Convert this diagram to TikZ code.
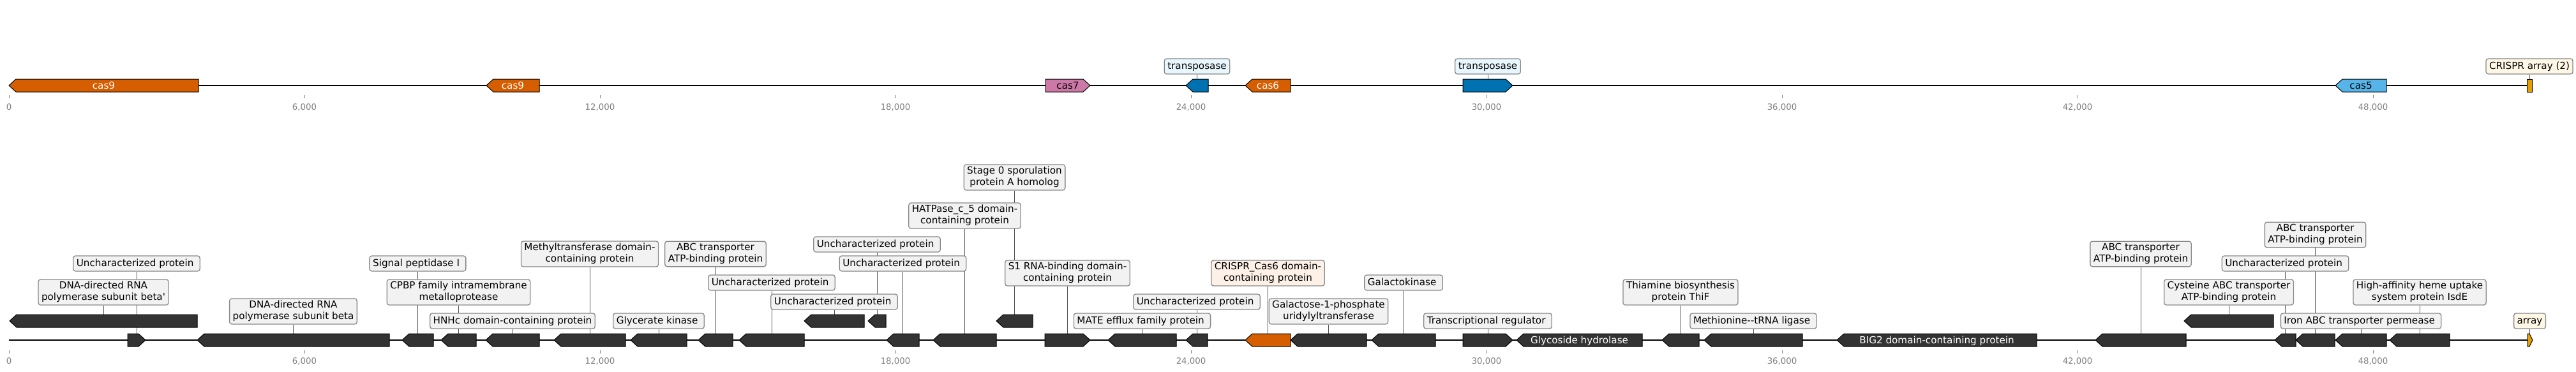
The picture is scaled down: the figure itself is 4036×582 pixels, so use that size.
\documentclass[tikz,border=0pt]{standalone}
\usepackage{fontspec}
\newfontfamily\dv{DejaVu Sans}
\pgfdeclarelayer{bg}
\pgfsetlayers{bg,main}
\definecolor{casorange}{HTML}{D55E00}
\definecolor{caspink}{HTML}{CC79A7}
\definecolor{casblue}{HTML}{0072B2}
\definecolor{cassky}{HTML}{56B4E9}
\definecolor{arrayc}{HTML}{E69F00}
\definecolor{genedark}{HTML}{333333}
\definecolor{boxfill}{HTML}{F2F2F2}
\definecolor{boxline}{HTML}{888888}
\definecolor{bluefill}{HTML}{E8F6FD}
\definecolor{creamfill}{HTML}{FFF7E6}
\definecolor{orangefill}{HTML}{FDF0E6}
\definecolor{tickgray}{HTML}{808080}
\definecolor{conngray}{HTML}{555555}
\newcommand{\lstr}{\rule[-4.4pt]{0pt}{18pt}}
\newcommand{\geneL}[5]{%
  \draw[genestyle, fill=#5] (#2,#4) -- (#2+11,#4-10) -- (#3,#4-10) -- (#3,#4+10) -- (#2+11,#4+10) -- cycle;
  \coordinate (#1) at ({(#2+#3)/2},#4-10);
  \coordinate (#1c) at ({(#2+#3)/2},#4);
}
\newcommand{\geneR}[5]{%
  \draw[genestyle, fill=#5] (#2,#4-10) -- (#3-11,#4-10) -- (#3,#4) -- (#3-11,#4+10) -- (#2,#4+10) -- cycle;
  \coordinate (#1) at ({(#2+#3)/2},#4-10);
  \coordinate (#1c) at ({(#2+#3)/2},#4);
}
\begin{document}
\begin{tikzpicture}[x=1pt,y=-1pt,
  genestyle/.style={draw=black, line width=1pt},
  track/.style={line width=2.6pt, draw=black},
  lbl/.style={draw=boxline, line width=1.3pt, rounded corners=3.5pt, fill=boxfill,
    inner xsep=5pt, inner ysep=3pt, align=center, text=black,
    font=\dv\fontsize{15.2}{18}\selectfont,
    execute at begin node=\lstr, execute at end node=\lstr},
  inw/.style={font=\dv\fontsize{15.2}{18}\selectfont, text=white, anchor=base, inner sep=0pt},
  inb/.style={inw, text=black},
  conn/.style={draw=conngray, line width=1pt},
  tickm/.style={draw=tickgray, line width=1pt},
  tickl/.style={font=\dv\fontsize{13.3}{16}\selectfont, text=tickgray, anchor=base, inner sep=0pt}
]
\useasboundingbox (0,0) rectangle (4036,582);

% ---------------- top track ----------------
\draw[track] (14,134) -- (3967,134);
\geneL{tg1}{14}{311}{134}{casorange}
\geneL{tg2}{762}{845}{134}{casorange}
\geneR{tg3}{1638}{1708}{134}{caspink}
\geneL{tg4}{1858}{1893}{134}{casblue}
\geneL{tg5}{1951}{2022}{134}{casorange}
\geneR{tg6}{2292}{2370}{134}{casblue}
\geneL{tg7}{3659}{3739}{134}{cassky}
\draw[genestyle, fill=arrayc] (3959,124) rectangle (3967,144);
\coordinate (tg8) at (3963,124);

\node[inw] (tn1) at ([yshift=-5.5pt]tg1c) {cas9};
\node[inw] (tn2) at ([yshift=-5.5pt]tg2c) {cas9};
\node[inb] (tn3) at ([yshift=-5.5pt]tg3c) {cas7};
\node[inw] (tn5) at ([yshift=-5.5pt]tg5c) {cas6};
\node[inb] (tn7) at ([yshift=-5.5pt]tg7c) {cas5};

\node[lbl, fill=bluefill] (tb4) at (1875.5,104) {transposase};
\node[lbl, fill=bluefill] (tb6) at (2331,104) {transposase};
\node[lbl, fill=creamfill] (tb8) at (3963,104) {CRISPR array (2)};

\foreach \i/\t in {0/0,1/{6,000},2/{12,000},3/{18,000},4/{24,000},5/{30,000},6/{36,000},7/{42,000},8/{48,000}}{
  \draw[tickm] ({14+463*\i},149) -- ({14+463*\i},154);
  \node[tickl] (tt\i) at ({14+463*\i},172) {\t};
  \draw[tickm] ({14+463*\i},549) -- ({14+463*\i},554);
  \node[tickl] (bt\i) at ({14+463*\i},570) {\t};
}

% ---------------- bottom track ----------------
\draw[track] (14,533) -- (3967,533);
\geneL{bg1}{15}{309}{503}{genedark}
\geneR{bg2}{200}{228}{533}{genedark}
\geneL{bg3}{309}{610}{533}{genedark}
\geneL{bg4}{630}{679}{533}{genedark}
\geneL{bg5}{691}{746}{533}{genedark}
\geneL{bg6}{761}{845}{533}{genedark}
\geneL{bg7}{868}{980}{533}{genedark}
\geneL{bg8}{988}{1076}{533}{genedark}
\geneL{bg9}{1094}{1148}{533}{genedark}
\geneL{bg10}{1158}{1260}{533}{genedark}
\geneL{bg11}{1260}{1354}{503}{genedark}
\geneL{bg12}{1360}{1388}{503}{genedark}
\geneL{bg13}{1389}{1440}{533}{genedark}
\geneL{bg14}{1462}{1561}{533}{genedark}
\geneL{bg15}{1561}{1618}{503}{genedark}
\geneR{bg16}{1637}{1708}{533}{genedark}
\geneL{bg17}{1736}{1843}{533}{genedark}
\geneL{bg18}{1858}{1892}{533}{genedark}
\geneL{bg19}{1951}{2022}{533}{casorange}
\geneL{bg20}{2022}{2141}{533}{genedark}
\geneL{bg21}{2149}{2249}{533}{genedark}
\geneR{bg22}{2292}{2370}{533}{genedark}
\geneL{bg23}{2376}{2573}{533}{genedark}
\geneL{bg24}{2604}{2662}{533}{genedark}
\geneL{bg25}{2670}{2824}{533}{genedark}
\geneL{bg26}{2878}{3191}{533}{genedark}
\geneL{bg27}{3283}{3425}{533}{genedark}
\geneL{bg28}{3422}{3562}{503}{genedark}
\geneL{bg29}{3564}{3597}{533}{genedark}
\geneL{bg30}{3597}{3658}{533}{genedark}
\geneL{bg31}{3659}{3739}{533}{genedark}
\geneL{bg32}{3744}{3838}{533}{genedark}
\draw[genestyle, fill=arrayc] (3960,523) -- (3963,523) -- (3968,533) -- (3963,543) -- (3960,543) -- cycle;
\coordinate (bg33) at (3963.5,523);

\node[inw] (bn23) at ([yshift=-5.5pt]bg23c) {Glycoside hydrolase};
\node[inw] (bn26) at ([yshift=-5.5pt]bg26c) {BIG2 domain-containing protein};

\node[lbl] (bb1) at (162,458) {DNA-directed RNA\\polymerase subunit beta'};
\node[lbl] (bb2) at (214,413) {Uncharacterized protein\ };
\node[lbl] (bb3) at (459.5,488) {DNA-directed RNA\\polymerase subunit beta};
\node[lbl] (bb4) at (654.5,413) {Signal peptidase I\ };
\node[lbl] (bb5) at (718.5,458) {CPBP family intramembrane\\metalloprotease};
\node[lbl] (bb6) at (803,503) {HNHc domain-containing protein};
\node[lbl] (bb7) at (924,398) {Methyltransferase domain-\\containing protein};
\node[lbl] (bb8) at (1032,503) {Glycerate kinase\ };
\node[lbl] (bb9) at (1121,398) {ABC transporter\\ATP-binding protein};
\node[lbl] (bb10) at (1209,443) {Uncharacterized protein\ };
\node[lbl] (bb11) at (1307,473) {Uncharacterized protein\ };
\node[lbl] (bb12) at (1374,383) {Uncharacterized protein\ };
\node[lbl] (bb13) at (1414.5,413) {Uncharacterized protein\ };
\node[lbl] (bb14) at (1511.5,338) {HATPase\_c\_5 domain-\\containing protein};
\node[lbl] (bb15) at (1589.5,278) {Stage 0 sporulation\\protein A homolog};
\node[lbl] (bb16) at (1672.5,428) {S1 RNA-binding domain-\\containing protein};
\node[lbl] (bb17) at (1789.5,503) {MATE efflux family protein\ };
\node[lbl] (bb18) at (1875,473) {Uncharacterized protein\ };
\node[lbl, fill=orangefill] (bb19) at (1986.5,428) {CRISPR\_Cas6 domain-\\containing protein};
\node[lbl] (bb20) at (2081.5,488) {Galactose-1-phosphate\\uridylyltransferase};
\node[lbl] (bb21) at (2199,443) {Galactokinase\ };
\node[lbl] (bb22) at (2331,503) {Transcriptional regulator\ };
\node[lbl] (bb24) at (2633,458) {Thiamine biosynthesis\\protein ThiF};
\node[lbl] (bb25) at (2747,503) {Methionine--tRNA ligase\ };
\node[lbl] (bb27) at (3354,398) {ABC transporter\\ATP-binding protein};
\node[lbl] (bb28) at (3492,458) {Cysteine ABC transporter\\ATP-binding protein};
\node[lbl] (bb29) at (3580.5,413) {Uncharacterized protein\ };
\node[lbl] (bb30) at (3627.5,368) {ABC transporter\\ATP-binding protein};
\node[lbl] (bb31) at (3699,503) {Iron ABC transporter permease\ };
\node[lbl] (bb32) at (3791,458) {High-affinity heme uptake\\system protein IsdE};
\node[lbl, fill=creamfill] (bb33) at (3963.5,503) {array};

\begin{pgfonlayer}{bg}
  \foreach \n in {4,6,8}{
    \draw[conn] (tg\n) -- (tg\n |- tb\n.south);
  }
  \foreach \n in {1,2,3,4,5,6,7,8,9,10,11,12,13,14,15,16,17,18,19,20,21,22,24,25,27,28,29,30,31,32,33}{
    \draw[conn] (bg\n) -- (bg\n |- bb\n.south);
  }
\end{pgfonlayer}
\end{tikzpicture}
\end{document}
